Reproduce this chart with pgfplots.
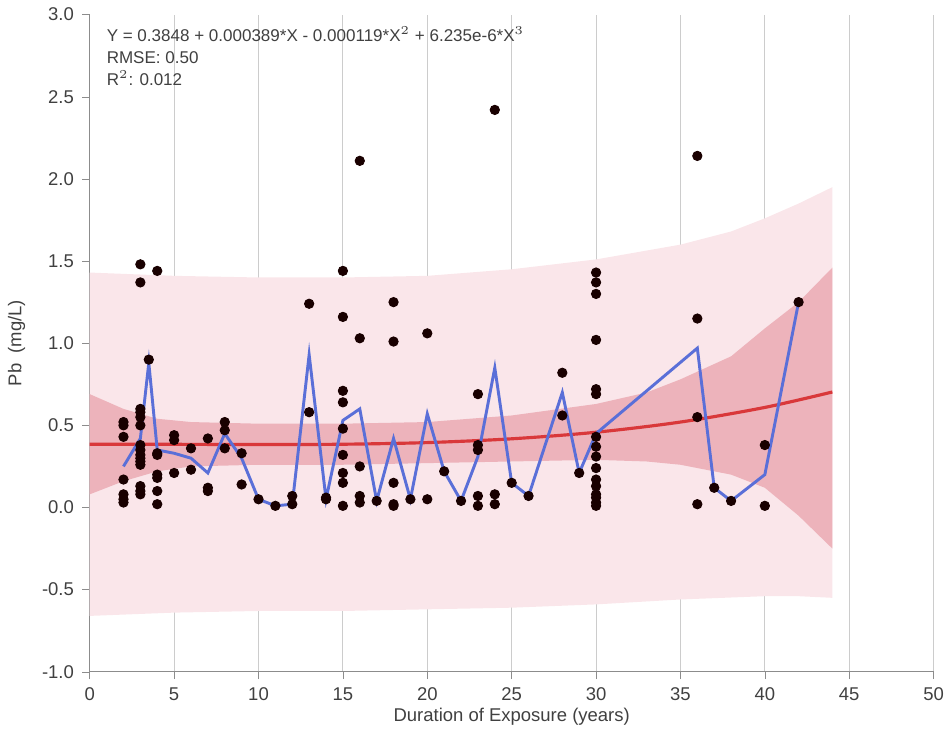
\documentclass[border=0pt]{standalone}
\usepackage{pgfplots}
\pgfplotsset{compat=1.18}
\usepackage{fontspec}
\setmainfont{Liberation Sans}
\definecolor{pband}{HTML}{FAE6EA}
\definecolor{cband}{HTML}{EDB3BB}
\definecolor{fitred}{HTML}{D9383A}
\definecolor{meanblue}{HTML}{5A6FD8}
\begin{document}
\begin{tikzpicture}
\begin{axis}[
  scale only axis, width=12.2cm, height=9.5cm,
  xmin=0, xmax=50, ymin=-1, ymax=3,
  xtick={0,5,...,50}, ytick={-1,-0.5,...,3},
  yticklabel style={/pgf/number format/.cd,fixed,fixed zerofill,precision=1},
  /pgf/number format/assume math mode=true,
  ticklabel style={font=\fontsize{7.6}{9}\selectfont, text=black!75},
  label style={font=\fontsize{7.6}{9}\selectfont, text=black!75},
  xlabel={Duration of Exposure (years)}, ylabel={Pb\ \ (mg/L)},
  xlabel style={yshift=4pt}, ylabel style={yshift=0pt},
  axis line style={black!45}, tick style={black!45},
  xmajorgrids, grid style={black!20},
  axis x line*=bottom, axis y line*=left,
  tick align=outside, major tick length=3pt,
]
\addplot[fill=pband, draw=none] coordinates {
 (0,1.43) (5,1.41) (10,1.40) (15,1.40) (20,1.41) (25,1.45) (30,1.51) (35,1.60) (38,1.68) (40,1.76) (42,1.85) (44,1.95)
 (44,-0.55) (42,-0.54) (40,-0.54) (35,-0.56) (30,-0.59) (25,-0.61) (20,-0.62) (15,-0.63) (10,-0.63) (5,-0.64) (0,-0.66)} \closedcycle;
\addplot[fill=cband, draw=none] coordinates {
 (0,0.69) (2,0.60) (4,0.54) (6,0.52) (10,0.51) (15,0.51) (20,0.52) (25,0.56) (30,0.63) (33,0.70) (35,0.78) (38,0.92) (40,1.09) (42,1.25) (44,1.46)
 (44,-0.25) (42,-0.05) (40,0.12) (38,0.20) (35,0.26) (33,0.28) (30,0.29) (25,0.28) (20,0.27) (15,0.26) (10,0.26) (6,0.25) (4,0.22) (2,0.16) (0,0.08)} \closedcycle;
\addplot[fitred, line width=1.3pt, smooth] coordinates {
 (0,0.385) (5,0.3845) (10,0.383) (15,0.385) (20,0.395) (25,0.418) (30,0.458) (35,0.520) (40,0.609) (44,0.703)};
\addplot[meanblue, line width=1.2pt] coordinates {
 (2,0.25) (3,0.42) (3.5,0.88) (4,0.35) (5,0.33) (6,0.30) (7,0.21) (8,0.45) (9,0.30) (10,0.05) (11,0.01) (12,0.02)
 (13,0.93) (14,0.05) (15,0.53) (16,0.60) (17,0.04) (18,0.42) (19,0.05) (20,0.57) (21,0.22) (22,0.04) (23,0.31)
 (24,0.85) (25,0.15) (26,0.07) (28,0.70) (29,0.21) (30,0.45) (36,0.97) (37,0.12) (38,0.04) (40,0.20) (42,1.25)};
\addplot[only marks, mark=*, mark size=1.9pt, color=black!90!red] coordinates {
 (2,0.52) (2,0.50) (2,0.43) (2,0.17) (2,0.08) (2,0.05) (2,0.03)
 (3,1.48) (3,1.37) (3,0.60) (3,0.58) (3,0.55) (3,0.50) (3,0.38) (3,0.35) (3,0.32) (3,0.30) (3,0.28) (3,0.26) (3,0.13) (3,0.10) (3,0.08)
 (3.5,0.90)
 (4,1.44) (4,0.33) (4,0.32) (4,0.20) (4,0.18) (4,0.10) (4,0.02)
 (5,0.44) (5,0.41) (5,0.21)
 (6,0.36) (6,0.23)
 (7,0.42) (7,0.12) (7,0.10)
 (8,0.52) (8,0.47) (8,0.36)
 (9,0.33) (9,0.14)
 (10,0.05) (11,0.01) (12,0.07) (12,0.02)
 (13,1.24) (13,0.58)
 (14,0.06) (14,0.05)
 (15,1.44) (15,1.16) (15,0.71) (15,0.64) (15,0.48) (15,0.32) (15,0.21) (15,0.15) (15,0.01)
 (16,2.11) (16,1.03) (16,0.25) (16,0.07) (16,0.03)
 (17,0.04)
 (18,1.25) (18,1.01) (18,0.15) (18,0.02) (18,0.01)
 (19,0.05) (20,1.06) (20,0.05) (21,0.22) (22,0.04)
 (23,0.69) (23,0.38) (23,0.35) (23,0.07) (23,0.01)
 (24,2.42) (24,0.08) (24,0.02)
 (25,0.15) (26,0.07) (28,0.82) (28,0.56) (29,0.21)
 (30,1.43) (30,1.37) (30,1.30) (30,1.02) (30,0.72) (30,0.69) (30,0.43) (30,0.37) (30,0.31) (30,0.24) (30,0.17) (30,0.13) (30,0.08) (30,0.06) (30,0.03) (30,0.01)
 (36,2.14) (36,1.15) (36,0.55) (36,0.02)
 (37,0.12) (38,0.04) (40,0.38) (40,0.01) (42,1.25)};
\node[anchor=north west, align=left, font=\fontsize{7}{9}\selectfont, text=black!75] at (rel axis cs:0.01,0.995)
 {Y = 0.3848 + 0.000389*X - 0.000119*X$^2$ + 6.235e-6*X$^3$\\RMSE: 0.50\\R$^2$: 0.012};
\end{axis}
\end{tikzpicture}
\end{document}
